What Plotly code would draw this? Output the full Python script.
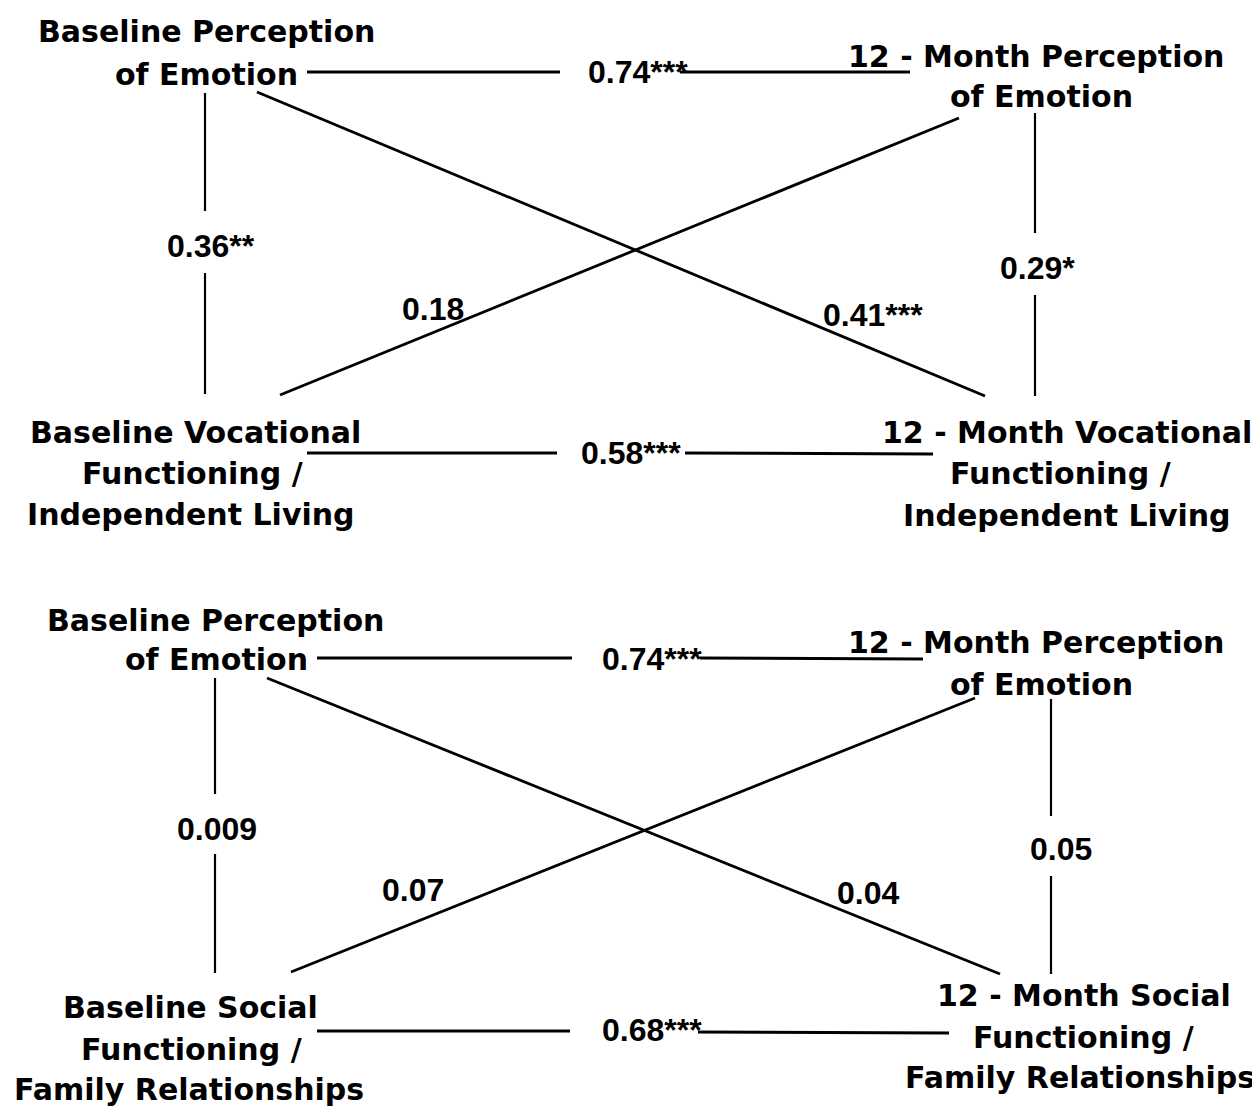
import plotly.graph_objects as go

# ---------------- data ----------------
# Node labels (each node is a multi-line label)
top_nodes = {
    "BPE": ["Baseline Perception", "of Emotion"],
    "MPE": ["12 - Month Perception", "of Emotion"],
    "BF": ["Baseline Vocational", "Functioning /", "Independent Living"],
    "MF": ["12 - Month Vocational", "Functioning /", "Independent Living"],
}
bottom_nodes = {
    "BPE": ["Baseline Perception", "of Emotion"],
    "MPE": ["12 - Month Perception", "of Emotion"],
    "BF": ["Baseline Social", "Functioning /", "Family Relationships"],
    "MF": ["12 - Month Social", "Functioning /", "Family Relationships"],
}
# Path coefficients and significance stars, one per edge
edges = ["BPE-MPE", "BPE-BF", "MPE-MF", "BF-MPE", "BPE-MF", "BF-MF"]
top_coef = ["0.74", "0.36", "0.29", "0.18", "0.41", "0.58"]
top_sig = ["***", "**", "*", "", "***", "***"]
bottom_coef = ["0.74", "0.009", "0.05", "0.07", "0.04", "0.68"]
bottom_sig = ["***", "", "", "", "", "***"]

# ---------------- layout geometry (pixels) ----------------
W, H = 1260, 1108
PAGE_OFF = 8  # default body margin of the html page
geom_top = {
    "nodes": {  # line centres (x, y) for each label line
        "BPE": [(206, 31), (206, 74)],
        "MPE": [(1036, 56), (1041, 96)],
        "BF": [(195, 432), (192, 473), (191, 514)],
        "MF": [(1067, 432), (1060, 473), (1067, 515)],
    },
    "segments": {
        "BPE-MPE": [[(307, 72), (560, 72)], [(680, 72), (910, 72)]],
        "BPE-BF": [[(205, 93), (205, 211)], [(205, 273), (205, 394)]],
        "MPE-MF": [[(1035, 113), (1035, 233)], [(1035, 295), (1035, 396)]],
        "BF-MPE": [[(280, 395), (959, 118)]],
        "BPE-MF": [[(257, 92), (985, 396)]],
        "BF-MF": [[(307, 453), (557, 453)], [(685, 453), (933, 454)]],
    },
    "labels": {  # left x, cap-middle y
        "BPE-MPE": (586, 72),
        "BPE-BF": (165, 246),
        "MPE-MF": (998, 268),
        "BF-MPE": (400, 309),
        "BPE-MF": (821, 315),
        "BF-MF": (579, 453),
    },
}
geom_bottom = {
    "nodes": {
        "BPE": [(215, 620), (216, 659)],
        "MPE": [(1036, 642), (1041, 684)],
        "BF": [(190, 1007), (191, 1049), (189, 1089)],
        "MF": [(1084, 995), (1083, 1037), (1080, 1077)],
    },
    "segments": {
        "BPE-MPE": [[(317, 658), (572, 658)], [(700, 658), (923, 659)]],
        "BPE-BF": [[(215, 678), (215, 794)], [(215, 854), (215, 973)]],
        "MPE-MF": [[(1051, 699), (1051, 816)], [(1051, 876), (1051, 974)]],
        "BF-MPE": [[(291, 972), (975, 698)]],
        "BPE-MF": [[(267, 678), (1000, 974)]],
        "BF-MF": [[(317, 1031), (570, 1031)], [(698, 1032), (949, 1033)]],
    },
    "labels": {
        "BPE-MPE": (600, 659),
        "BPE-BF": (175, 829),
        "MPE-MF": (1028, 849),
        "BF-MPE": (380, 890),
        "BPE-MF": (835, 893),
        "BF-MF": (600, 1030),
    },
}

NODE_FONT = dict(family="DejaVu Sans", size=30, color="black", weight="bold")
COEF_FONT = dict(family="Liberation Sans", size=32, color="black", weight="bold")
LINE_W = {"BPE-MPE": 3, "BF-MF": 3, "BPE-BF": 2.2, "MPE-MF": 2.2, "BF-MPE": 2.8, "BPE-MF": 2.8}

fig = go.Figure()
annotations = []


def add_panel(nodes, coefs, sigs, geom):
    for e in edges:
        xs, ys = [], []
        for seg in geom["segments"][e]:
            for (px, py) in seg:
                xs.append(px)
                ys.append(py)
            xs.append(None)
            ys.append(None)
        fig.add_trace(go.Scatter(x=xs, y=ys, mode="lines",
                                 line=dict(color="black", width=LINE_W[e]),
                                 hoverinfo="skip", showlegend=False))
    for key, lines in nodes.items():
        for txt, (cx, cy) in zip(lines, geom["nodes"][key]):
            annotations.append(dict(x=cx, y=cy, text=txt, showarrow=False,
                                    xanchor="center", yanchor="middle",
                                    font=NODE_FONT))
    for e, c, s in zip(edges, coefs, sigs):
        lx, ly = geom["labels"][e]
        annotations.append(dict(x=lx, y=ly, text=c + s, showarrow=False,
                                xanchor="left", yanchor="middle", font=COEF_FONT))


add_panel(top_nodes, top_coef, top_sig, geom_top)
add_panel(bottom_nodes, bottom_coef, bottom_sig, geom_bottom)

fig.update_layout(
    width=W - PAGE_OFF, height=H - PAGE_OFF,
    margin=dict(l=0, r=0, t=0, b=0),
    paper_bgcolor="white", plot_bgcolor="white",
    xaxis=dict(range=[PAGE_OFF, W], visible=False, fixedrange=True),
    yaxis=dict(range=[H, PAGE_OFF], visible=False, fixedrange=True),
    annotations=annotations,
    showlegend=False,
)

fig.write_html("out.html", config={"displayModeBar": False})
